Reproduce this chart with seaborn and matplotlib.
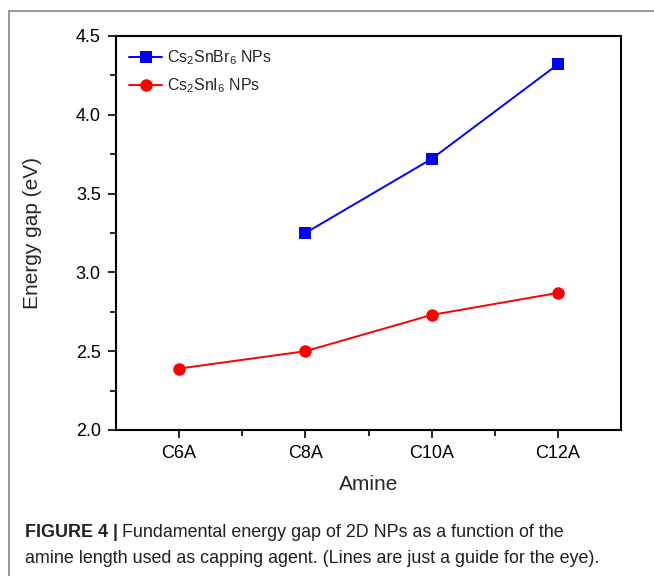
import matplotlib
matplotlib.use("Agg")
import matplotlib.pyplot as plt
import seaborn as sns
import pandas as pd
from matplotlib.lines import Line2D
from matplotlib.ticker import MultipleLocator

categories = ["C6A", "C8A", "C10A", "C12A"]
br_amines = ["C8A", "C10A", "C12A"]
br_values = [3.25, 3.72, 4.32]
i_amines = ["C6A", "C8A", "C10A", "C12A"]
i_values = [2.39, 2.50, 2.73, 2.87]
series_labels = [r"Cs$_2$SnBr$_6$ NPs", r"Cs$_2$SnI$_6$ NPs"]
y_ticks = [2.0, 2.5, 3.0, 3.5, 4.0, 4.5]

sns.set_theme(style="ticks")
plt.rcParams["font.family"] = ["Liberation Sans", "DejaVu Sans"]
plt.rcParams["mathtext.fontset"] = "custom"
plt.rcParams["mathtext.rm"] = "Liberation Sans"
plt.rcParams["mathtext.it"] = "Liberation Sans:italic"
plt.rcParams["mathtext.bf"] = "Liberation Sans:bold"

pos = {c: i + 1 for i, c in enumerate(categories)}
df = pd.concat([
    pd.DataFrame({"pos": [pos[a] for a in br_amines], "gap": br_values, "series": series_labels[0]}),
    pd.DataFrame({"pos": [pos[a] for a in i_amines], "gap": i_values, "series": series_labels[1]}),
], ignore_index=True)

fig = plt.figure(figsize=(6.54, 5.76), dpi=100)
ax = fig.add_axes([116 / 654, 1 - 430 / 576, (621 - 116) / 654, (430 - 36) / 576])

sns.lineplot(data=df, x="pos", y="gap", hue="series", style="series",
             palette={series_labels[0]: "#0000ff", series_labels[1]: "#ff0000"},
             markers={series_labels[0]: "s", series_labels[1]: "o"},
             dashes=False, markersize=9, markeredgewidth=0, linewidth=1.4,
             ax=ax, legend=False)

ax.set_xlim(0.5, 4.5)
ax.set_ylim(2.0, 4.5)
ax.set_xticks(range(1, len(categories) + 1))
ax.set_xticklabels(categories)
ax.set_xticks([1.5, 2.5, 3.5], minor=True)
ax.set_yticks(y_ticks)
ax.set_yticklabels([f"{t:.1f}" for t in y_ticks])
ax.yaxis.set_minor_locator(MultipleLocator(0.25))
ax.tick_params(which="major", direction="out", length=6, width=1.2, labelsize=13, color="black",
               labelcolor="black", pad=5)
ax.tick_params(which="minor", direction="out", length=4, width=1.2, color="black")
ax.tick_params(top=False, right=False, which="both")
for s in ax.spines.values():
    s.set_linewidth(1.5)
    s.set_color("black")
    s.set_visible(True)

ax.set_xlabel("Amine", fontsize=15, labelpad=9)
ax.set_ylabel("Energy gap (eV)", fontsize=15, labelpad=24)

handles = [
    Line2D([], [], color="#0000ff", marker="s", markersize=9, markeredgewidth=0, linewidth=1.4),
    Line2D([], [], color="#ff0000", marker="o", markersize=9, markeredgewidth=0, linewidth=1.4),
]
ax.legend(handles, series_labels, loc="upper left", frameon=False, fontsize=11.5,
          handlelength=2.1, handletextpad=0.3, labelspacing=0.55,
          borderaxespad=0.4, bbox_to_anchor=(0.0, 1.0))

# figure border lines (top and left)
fig.add_artist(Line2D([9 / 654, 1.0], [1 - 11 / 576, 1 - 11 / 576], color="#888888", linewidth=1.2, transform=fig.transFigure))
fig.add_artist(Line2D([9 / 654, 9 / 654], [0.0, 1 - 11 / 576], color="#888888", linewidth=1.2, transform=fig.transFigure))

# caption
cap_x = 25 / 654
fam = ["Liberation Sans Narrow", "Liberation Sans"]
t1 = fig.text(cap_x, 1 - 537 / 576, "FIGURE 4 |", fontsize=12.9, fontweight="bold", color="#231f20",
              family=fam, va="baseline")
fig.canvas.draw()
bb = t1.get_window_extent()
fig.text((bb.x1 + 4) / 654, 1 - 537 / 576, "Fundamental energy gap of 2D NPs as a function of the",
         fontsize=12.9, color="#231f20", family=fam, va="baseline")
fig.text(cap_x, 1 - 563 / 576, "amine length used as capping agent. (Lines are just a guide for the eye).",
         fontsize=12.9, color="#231f20", family=fam, va="baseline")

fig.savefig("out.png", dpi=100)
